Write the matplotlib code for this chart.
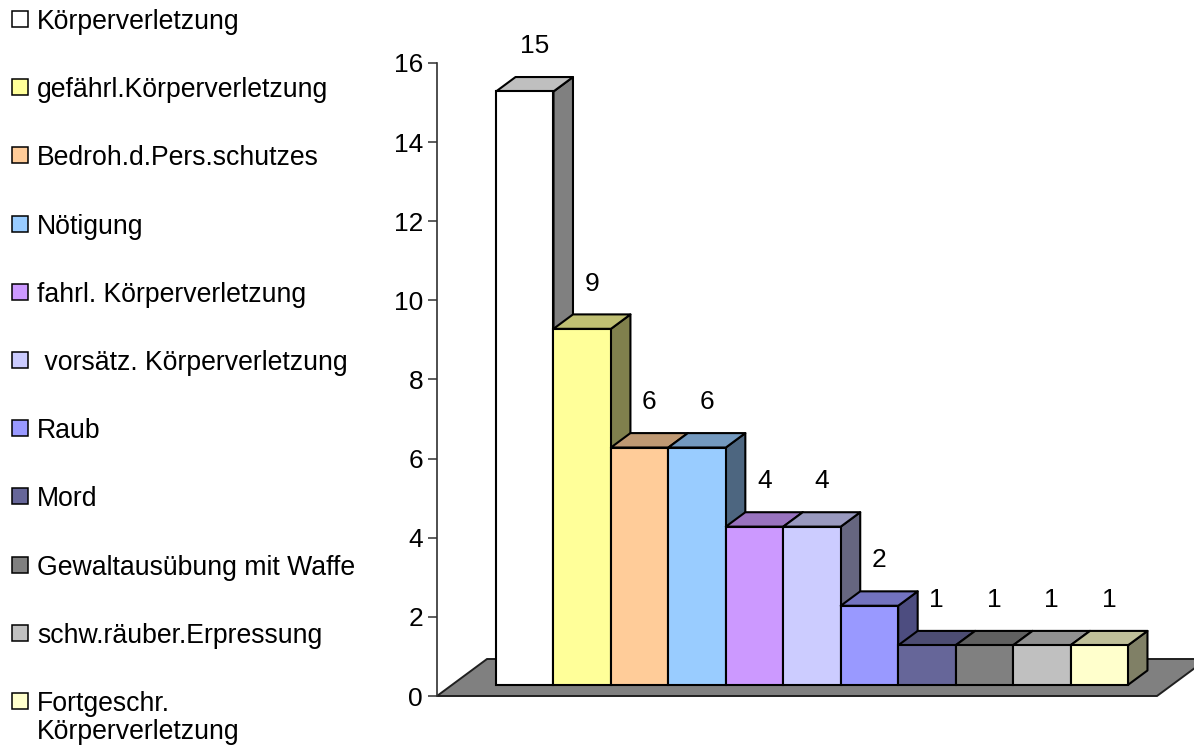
import matplotlib
matplotlib.use("Agg")
import matplotlib.pyplot as plt
from matplotlib.patches import Polygon, Rectangle
from matplotlib.colors import to_rgb

plt.rcParams['font.family'] = ['Liberation Sans', 'DejaVu Sans']

# Offences and their case counts
categories = [
    "Körperverletzung",
    "gefährl.Körperverletzung",
    "Bedroh.d.Pers.schutzes",
    "Nötigung",
    "fahrl. Körperverletzung",
    " vorsätz. Körperverletzung",
    "Raub",
    "Mord",
    "Gewaltausübung mit Waffe",
    "schw.räuber.Erpressung",
    "Fortgeschr.\nKörperverletzung",
]
counts = [15, 9, 6, 6, 4, 4, 2, 1, 1, 1, 1]
colors = ["#FFFFFF", "#FFFF99", "#FFCC99", "#99CCFF", "#CC99FF", "#CCCCFF",
          "#9999FF", "#666699", "#808080", "#C0C0C0", "#FFFFCC"]
yticks = [0, 2, 4, 6, 8, 10, 12, 14, 16]

W, H = 1194, 745
fig = plt.figure(figsize=(W / 100, H / 100), dpi=100)

# plot area (pixel geometry of the front floor edge and value axis)
ax_left, ax_right, ax_top, ax_bottom = 437, 1157, 63, 696
ax = fig.add_axes([ax_left / W, 1 - ax_bottom / H,
                   (ax_right - ax_left) / W, (ax_bottom - ax_top) / H])

n = len(counts)
gap = 0.7665
ax.set_xlim(-0.5 - gap, n - 0.5 + gap)
ax.set_ylim(0, 16)

# oblique depth vector (full floor depth) in data units
px_x = (ax_right - ax_left) / (n + 2 * gap)
px_y = (ax_bottom - ax_top) / 16
DX, DY = 50 / px_x, 37 / px_y
d0, d1 = 0.30, 0.69  # bar depth extent as fraction of the floor


def shade(c, f):
    r, g, b = to_rgb(c)
    return (r * f, g * f, b * f)


# floor
x0, x1 = -0.5 - gap, n - 0.5 + gap
floor = Polygon([(x0, 0), (x1, 0), (x1 + DX, DY), (x0 + DX, DY)],
                closed=True, facecolor="#808080", edgecolor="#202020",
                linewidth=1.4, clip_on=False, zorder=1)
ax.add_patch(floor)

# 3D columns, drawn left to right so neighbours cover side faces
for i, (v, c) in enumerate(zip(counts, colors)):
    xl = i - 0.5 + d0 * DX
    xr = i + 0.5 + d0 * DX
    yb = d0 * DY
    yt = v + d0 * DY
    ox, oy = (d1 - d0) * DX, (d1 - d0) * DY
    z = 2 + i
    side = Polygon([(xr, yb), (xr + ox, yb + oy), (xr + ox, yt + oy), (xr, yt)],
                   closed=True, facecolor=shade(c, 0.5), edgecolor="black",
                   linewidth=1.5, joinstyle="round", clip_on=False, zorder=z)
    top = Polygon([(xl, yt), (xr, yt), (xr + ox, yt + oy), (xl + ox, yt + oy)],
                  closed=True, facecolor=shade(c, 0.75), edgecolor="black",
                  linewidth=1.5, joinstyle="round", clip_on=False, zorder=z)
    front = Rectangle((xl, yb), xr - xl, yt - yb, facecolor=c,
                      edgecolor="black", linewidth=1.5, clip_on=False, zorder=z)
    for p in (side, top, front):
        ax.add_patch(p)
    # value label above the top face
    ax.text(i + 0.5 * (d0 + d1) * DX, v + d1 * DY + 0.78, str(v),
            ha="center", va="center", fontsize=19, zorder=30, clip_on=False)

# axis styling
for s in ("top", "right", "bottom"):
    ax.spines[s].set_visible(False)
ax.spines["left"].set_color("#303030")
ax.spines["left"].set_linewidth(1.2)
ax.set_yticks(yticks)
ax.set_yticklabels([str(t) for t in yticks])
ax.tick_params(axis="y", direction="out", length=6.5, width=1.1,
               color="#303030", pad=3.5, labelsize=19)
ax.set_xticks([])
ax.patch.set_alpha(0)

# legend on the left
row0, step = 19, 68.2
for i, (lab, c) in enumerate(zip(categories, colors)):
    yc = row0 + step * i
    fig.patches.append(Rectangle((12 / W, 1 - (yc + 8) / H), 16 / W, 16 / H,
                                 transform=fig.transFigure, facecolor=c,
                                 edgecolor="black", linewidth=1.1))
    fig.text(37 / W, 1 - (yc - 10) / H, lab, ha="left", va="top",
             fontsize=19.2, linespacing=1.12)

fig.savefig("out.png", dpi=100)
